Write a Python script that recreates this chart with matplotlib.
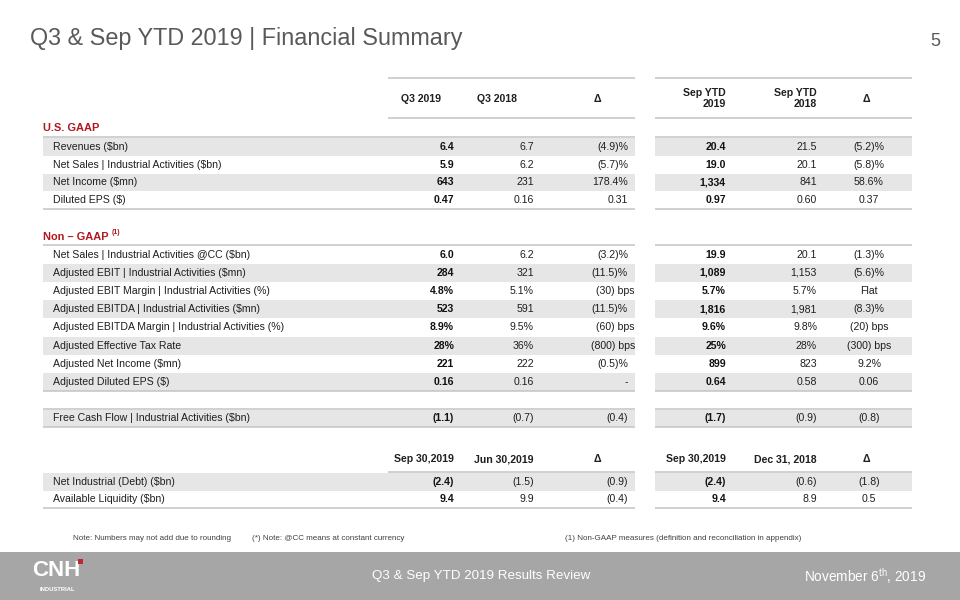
import matplotlib
matplotlib.use("Agg")
import matplotlib.pyplot as plt
from matplotlib.patches import Rectangle

plt.rcParams['font.family'] = ['Liberation Sans', 'DejaVu Sans']
plt.rcParams['mathtext.fontset'] = 'custom'
plt.rcParams['mathtext.rm'] = 'Liberation Sans'
plt.rcParams['mathtext.it'] = 'Liberation Sans:italic'
plt.rcParams['mathtext.bf'] = 'Liberation Sans:bold'

# ---------------- data ----------------
title = "Q3 & Sep YTD 2019 | Financial Summary"
page_no = "5"
q3_headers = ["Q3 2019", "Q3 2018", "Δ"]
ytd_headers = ["Sep YTD\n2019", "Sep YTD\n2018", "Δ"]

gaap_labels = ["Revenues ($bn)", "Net Sales | Industrial Activities ($bn)",
               "Net Income ($mn)", "Diluted EPS ($)"]
gaap_q3_2019 = ["6.4", "5.9", "643", "0.47"]
gaap_q3_2018 = ["6.7", "6.2", "231", "0.16"]
gaap_q3_delta = ["(4.9)%", "(5.7)%", "178.4%", "0.31"]
gaap_ytd_2019 = ["20.4", "19.0", "1,334", "0.97"]
gaap_ytd_2018 = ["21.5", "20.1", "841", "0.60"]
gaap_ytd_delta = ["(5.2)%", "(5.8)%", "58.6%", "0.37"]

ng_labels = ["Net Sales | Industrial Activities @CC ($bn)",
             "Adjusted EBIT | Industrial Activities ($mn)",
             "Adjusted EBIT Margin | Industrial Activities (%)",
             "Adjusted EBITDA | Industrial Activities ($mn)",
             "Adjusted EBITDA Margin | Industrial Activities (%)",
             "Adjusted Effective Tax Rate",
             "Adjusted Net Income ($mn)",
             "Adjusted Diluted EPS ($)"]
ng_q3_2019 = ["6.0", "284", "4.8%", "523", "8.9%", "28%", "221", "0.16"]
ng_q3_2018 = ["6.2", "321", "5.1%", "591", "9.5%", "36%", "222", "0.16"]
ng_q3_delta = ["(3.2)%", "(11.5)%", "(30) bps", "(11.5)%", "(60) bps",
               "(800) bps", "(0.5)%", "-"]
ng_ytd_2019 = ["19.9", "1,089", "5.7%", "1,816", "9.6%", "25%", "899", "0.64"]
ng_ytd_2018 = ["20.1", "1,153", "5.7%", "1,981", "9.8%", "28%", "823", "0.58"]
ng_ytd_delta = ["(1.3)%", "(5.6)%", "Flat", "(8.3)%", "(20) bps",
                "(300) bps", "9.2%", "0.06"]

fcf_labels = ["Free Cash Flow | Industrial Activities ($bn)"]
fcf_q3_2019 = ["(1.1)"]
fcf_q3_2018 = ["(0.7)"]
fcf_q3_delta = ["(0.4)"]
fcf_ytd_2019 = ["(1.7)"]
fcf_ytd_2018 = ["(0.9)"]
fcf_ytd_delta = ["(0.8)"]

bal_headers_left = ["Sep 30,2019", "Jun 30,2019", "Δ"]
bal_headers_right = ["Sep 30,2019", "Dec 31, 2018", "Δ"]
bal_labels = ["Net Industrial (Debt) ($bn)", "Available Liquidity ($bn)"]
bal_sep19 = ["(2.4)", "9.4"]
bal_jun19 = ["(1.5)", "9.9"]
bal_q_delta = ["(0.9)", "(0.4)"]
bal_sep19_r = ["(2.4)", "9.4"]
bal_dec18 = ["(0.6)", "8.9"]
bal_y_delta = ["(1.8)", "0.5"]

notes = ["Note: Numbers may not add due to rounding",
         "(*) Note: @CC means at constant currency",
         "(1) Non-GAAP measures (definition and reconciliation in appendix)"]
footer_center = "Q3 & Sep YTD 2019 Results Review"
footer_date = r"November 6$^{\mathrm{th}}$, 2019"

# ---------------- style / layout ----------------
TXT = "#1f1f1f"
RED = "#b3161e"
BAND = "#e6e6e6"
LINE = "#c4c4c4"
FS = 7.6

fig = plt.figure(figsize=(9.6, 6.0), dpi=100)
ax = fig.add_axes([0, 0, 1, 1])
ax.set_xlim(0, 960)
ax.set_ylim(600, 0)
ax.axis("off")

ax.text(30, 38, title, fontsize=16.8, color="#595959", ha="left", va="center")
ax.text(940, 42, page_no, fontsize=13, color="#595959", ha="right", va="center")

L0, L1 = 43, 635      # left block
R0, R1 = 655, 912     # right block
VL0 = 388             # left value-area start
LABEL_X = 53
COLS = [(454, "right"), (534, "right"), (628, "right"),
        (726, "right"), (817, "right"), (869, "center")]


def hline(y, x0, x1):
    ax.plot([x0, x1], [y, y], color=LINE, lw=1.1, solid_capstyle="butt", zorder=2)


def section(y0, h, labels, cols, shade_start):
    n = len(labels)
    for i in range(n):
        top = y0 + i * h
        yc = top + h / 2
        if (i - shade_start) % 2 == 0:
            ax.add_patch(Rectangle((L0, top), L1 - L0, h, color=BAND, lw=0, zorder=1))
            ax.add_patch(Rectangle((R0, top), R1 - R0, h, color=BAND, lw=0, zorder=1))
        ax.text(LABEL_X, yc, labels[i], fontsize=FS, color=TXT, ha="left",
                va="center", zorder=3)
        for j, (vals, (x, ha)) in enumerate(zip(cols, COLS)):
            v = vals[i]
            xx = x
            if j == 2 and v.endswith("bps"):
                xx = x + 7
            bold = j in (0, 3)
            ax.text(xx, yc, v, fontsize=FS, color=TXT if not bold else "#111111",
                    fontweight="bold" if bold else "normal", ha=ha, va="center",
                    zorder=3)
    return y0 + n * h


# header row
hline(78, VL0, L1)
hline(78, R0, R1)
hdr_y = 98.5
for txt, x in zip(q3_headers, [421, 497, 597]):
    ax.text(x, hdr_y, txt, fontsize=FS, fontweight="bold", color=TXT,
            ha="center", va="center")
for txt, (x, ha) in zip(ytd_headers, [(726, "right"), (817, "right"), (866, "center")]):
    ax.text(x, hdr_y, txt, fontsize=FS, fontweight="bold", color=TXT,
            ha=ha, va="center", multialignment="right", linespacing=1.2)
hline(118.3, VL0, L1)
hline(118.3, R0, R1)

# U.S. GAAP
ax.text(43, 128.3, "U.S. GAAP", fontsize=FS + 0.3, fontweight="bold", color=RED,
        ha="left", va="center")
hline(137.2, L0, L1)
hline(137.2, R0, R1)
end = section(137.7, 17.9, gaap_labels,
              [gaap_q3_2019, gaap_q3_2018, gaap_q3_delta,
               gaap_ytd_2019, gaap_ytd_2018, gaap_ytd_delta], 0)
hline(end, L0, L1)
hline(end, R0, R1)

# Non-GAAP
ax.text(43, 236.7, "Non – GAAP", fontsize=FS + 0.3, fontweight="bold", color=RED,
        ha="left", va="center")
ax.text(112, 232.5, "(1)", fontsize=5, fontweight="bold", color=RED,
        ha="left", va="center")
hline(245, L0, L1)
hline(245, R0, R1)
end = section(245.5, 18.2, ng_labels,
              [ng_q3_2019, ng_q3_2018, ng_q3_delta,
               ng_ytd_2019, ng_ytd_2018, ng_ytd_delta], 1)
hline(end, L0, L1)
hline(end, R0, R1)

# FCF
hline(409, L0, L1)
hline(409, R0, R1)
end = section(409.5, 17.5, fcf_labels,
              [fcf_q3_2019, fcf_q3_2018, fcf_q3_delta,
               fcf_ytd_2019, fcf_ytd_2018, fcf_ytd_delta], 0)
hline(end, L0, L1)
hline(end, R0, R1)

# balance sheet headers
bh_y = 459.3
for txt, (x, ha) in zip(bal_headers_left, [(454, "right"), (534, "right"), (597, "center")]):
    ax.text(x, bh_y, txt, fontsize=FS, fontweight="bold", color=TXT, ha=ha, va="center")
for txt, (x, ha) in zip(bal_headers_right, [(726, "right"), (817, "right"), (866, "center")]):
    ax.text(x, bh_y, txt, fontsize=FS, fontweight="bold", color=TXT, ha=ha, va="center")
hline(472.3, VL0, L1)
hline(472.3, R0, R1)
end = section(472.8, 17.8, bal_labels,
              [bal_sep19, bal_jun19, bal_q_delta,
               bal_sep19_r, bal_dec18, bal_y_delta], 0)
hline(end, L0, L1)
hline(end, R0, R1)

# notes
ax.text(73, 539, notes[0], fontsize=5.8, color="#404040", ha="left", va="center")
ax.text(252, 538, notes[1], fontsize=5.8, color="#404040", ha="left", va="center")
ax.text(565, 539, notes[2], fontsize=5.8, color="#404040", ha="left", va="center")

# footer
ax.add_patch(Rectangle((0, 552), 960, 48, color="#a6a6a6", lw=0, zorder=1))
ax.text(32, 571, "CNH", fontsize=16, fontweight="bold", color="white",
        ha="left", va="center", zorder=3)
ax.add_patch(Rectangle((78, 559), 5, 4.5, color="#c0262d", lw=0, zorder=3))
ax.text(57.5, 589.5, "INDUSTRIAL", fontsize=4.2, fontweight="bold", color="white",
        ha="center", va="center", zorder=3)
ax.text(481, 576, footer_center, fontsize=9.6, color="white", ha="center",
        va="center", zorder=3)
ax.text(926, 576, footer_date, fontsize=9.8, color="white", ha="right",
        va="center", zorder=3)

fig.savefig("out.png", dpi=100)
